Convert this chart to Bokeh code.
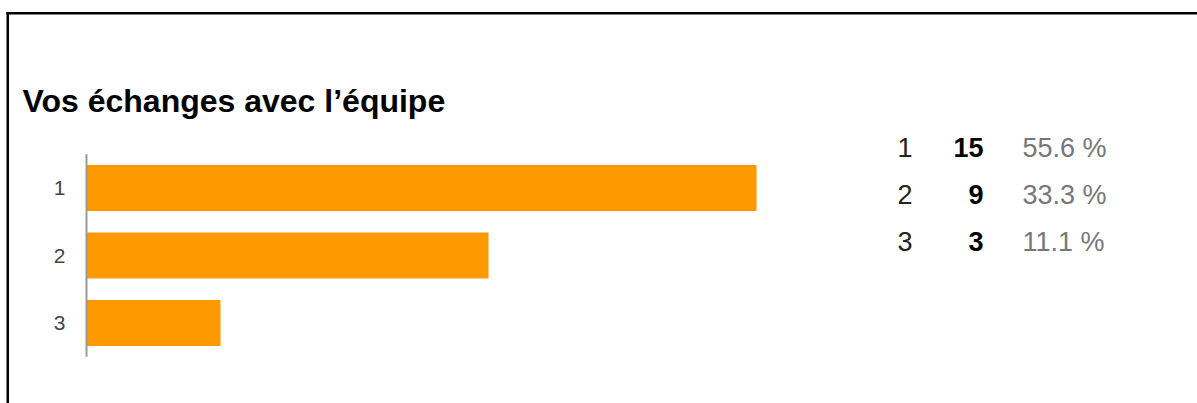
from bokeh.plotting import figure
from bokeh.models import Range1d, Label, BoxAnnotation, ColumnDataSource
from bokeh.embed import file_html
from bokeh.resources import INLINE
from bokeh.core.properties import value

# ---- data ----
title_text = "Vos échanges avec l’équipe"
categories = ["1", "2", "3"]
counts = [15, 9, 3]
percents = ["55.6 %", "33.3 %", "11.1 %"]

# ---- layout constants ----
W, H = 1197, 403
AXIS_X = 86                       # pixel position of the value 0
PX_PER_UNIT = 44.67
ROW0, ROW_STEP = 187.5, 67.5      # bar rows (pixels from top)
TROW0, TROW_STEP = 147.0, 47.0    # summary table rows
FONT = value("Liberation Sans")

idx = list(range(len(categories)))
src = ColumnDataSource(dict(
    y=idx, right=counts, cat=categories,
    cnt=[str(c) for c in counts], pct=percents,
))

p = figure(
    width=W, height=H, output_backend="svg", toolbar_location=None,
    x_range=Range1d(-AXIS_X / PX_PER_UNIT, (W - AXIS_X) / PX_PER_UNIT),
    y_range=Range1d((H - ROW0) / ROW_STEP, -ROW0 / ROW_STEP),
    x_axis_location=None, y_axis_location=None,
    min_border_left=0, min_border_right=0, min_border_top=0, min_border_bottom=0,
)
p.extra_y_ranges = {"table": Range1d((H - TROW0) / TROW_STEP, -TROW0 / TROW_STEP)}
p.outline_line_color = None
p.grid.visible = False
p.background_fill_color = "white"
p.border_fill_color = "white"

# bars
p.hbar(y="y", left=0, right="right", height=0.68, fill_color="#FF9900",
       line_color=None, source=src)

# category axis (line + labels)
p.segment(x0=0, x1=0, y0=-0.5, y1=len(categories) - 0.5,
          line_color="#999999", line_width=2)
p.text(x=0, y="y", text="cat", source=src, x_offset=-21, text_align="right",
       text_baseline="middle", text_font=FONT, text_font_size="21px",
       text_color="#444444")

# summary table
common = dict(y="y", source=src, y_range_name="table", text_baseline="middle",
              text_font=FONT, text_font_size="27px")
p.text(x=0, text="cat", x_offset=811, text_align="left", text_color="#222222", **common)
p.text(x=0, text="cnt", x_offset=897, text_align="right", text_color="#000000",
       text_font_style="bold", **common)
p.text(x=0, text="pct", x_offset=936, text_align="left", text_color="#777777", **common)

# title
p.add_layout(Label(x=22, y=100, x_units="canvas", y_units="canvas", text=title_text,
                   text_font="Liberation Sans", text_font_size="32px",
                   text_font_style="bold", text_color="#000000",
                   text_baseline="alphabetic"))

# page border (top and left edges)
for l, r, t, b in [(6, W, 11.5, 14), (6, 8.5, 11.5, H)]:
    p.add_layout(BoxAnnotation(left=l, right=r, top=t, bottom=b,
                               left_units="canvas", right_units="canvas",
                               bottom_units="canvas", top_units="canvas",
                               fill_color="black", fill_alpha=1, line_color=None))

open("out.html", "w").write(file_html(p, INLINE))
